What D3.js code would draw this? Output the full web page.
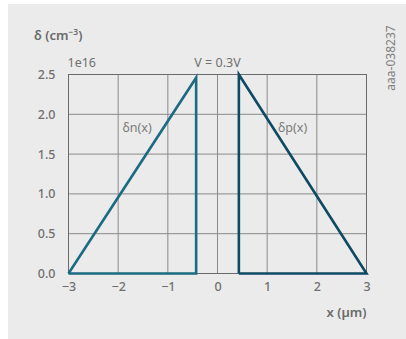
<!DOCTYPE html>
<html>
<head>
<meta charset="utf-8">
<script src="https://cdn.jsdelivr.net/npm/d3@7"></script>
<style>
  html, body { margin: 0; padding: 0; background: #ffffff; }
  svg { display: block; font-family: "Noto Sans", "Open Sans", sans-serif; }
</style>
</head>
<body>
<svg id="chart" width="406" height="339"></svg>
<script>
// Excess carrier profiles on each side of the depletion region
const xTicks = [-3, -2, -1, 0, 1, 2, 3];
const yTicks = [0, 0.5, 1.0, 1.5, 2.0, 2.5];
const deltaN = [[-3, 0], [-0.43, 2.46], [-0.43, 0], [-3, 0]];
const deltaP = [[0.43, 0], [0.43, 2.5], [3, 0], [0.43, 0]];
const seriesColors = ["#1b6b82", "#0e4a64"];
const seriesLabels = ["δn(x)", "δp(x)"];

const svg = d3.select("#chart");

// light grey panel
svg.append("rect").attr("x", 8).attr("y", 4).attr("width", 398).attr("height", 335)
  .attr("fill", "#ebebeb");

const x = d3.scaleLinear().domain([-3, 3]).range([68.5, 366.5]);
const y = d3.scaleLinear().domain([0, 2.5]).range([273.5, 74.5]);

// grid
const grid = svg.append("g").attr("stroke", "#8a8a8a").attr("stroke-width", 1);
grid.selectAll("line.v").data(xTicks).join("line")
  .attr("x1", d => x(d)).attr("x2", d => x(d))
  .attr("y1", y(0)).attr("y2", y(2.5));
grid.selectAll("line.h").data(yTicks).join("line")
  .attr("x1", x(-3)).attr("x2", x(3))
  .attr("y1", d => y(d)).attr("y2", d => y(d));

// axes
const xAxis = d3.axisBottom(x).tickValues(xTicks).tickSize(0).tickPadding(9)
  .tickFormat(d => d < 0 ? "\u2212" + Math.abs(d) : d);
const yAxis = d3.axisLeft(y).tickValues(yTicks).tickSize(0).tickPadding(13)
  .tickFormat(d3.format(".1f"));
const gx = svg.append("g").attr("transform", `translate(0,${y(0)})`).call(xAxis);
const gy = svg.append("g").attr("transform", `translate(${x(-3)},0)`).call(yAxis);
[gx, gy].forEach(g => {
  g.select(".domain").remove();
  g.selectAll("text").attr("fill", "#707070").attr("font-size", 12.5)
    .attr("font-family", "'Noto Sans', 'Open Sans', sans-serif").attr("font-weight", 500);
});

// plot frame
svg.append("rect").attr("x", x(-3)).attr("y", y(2.5))
  .attr("width", x(3) - x(-3)).attr("height", y(0) - y(2.5))
  .attr("fill", "none").attr("stroke", "#6a6a6a").attr("stroke-width", 1);

// profiles
const line = d3.line().x(d => x(d[0])).y(d => y(d[1]));
[deltaN, deltaP].forEach((pts, i) => {
  svg.append("path").attr("d", line(pts)).attr("fill", "none")
    .attr("stroke", seriesColors[i]).attr("stroke-width", 2.6)
    .attr("stroke-linejoin", "miter");
});

const txt = (tx, ty, s, opts = {}) => svg.append("text").attr("x", tx).attr("y", ty)
  .attr("font-size", opts.size || 12.5).attr("fill", opts.fill || "#707070")
  .attr("font-weight", opts.weight || 400)
  .attr("text-anchor", opts.anchor || "start").text(s);

// series labels
txt(122.5, 131.5, seriesLabels[0], { fill: "#7a7a7a" });
txt(278, 131.5, seriesLabels[1], { fill: "#7a7a7a" });

// titles and annotations
const yt = txt(34, 40, "", { weight: 600, fill: "#6a6a6a", size: 13 });
yt.append("tspan").text("δ (cm");
yt.append("tspan").attr("dy", -5).attr("font-size", 8.5).text("\u22123");
yt.append("tspan").attr("dy", 5).text(")");
txt(67.5, 66.5, "1e16", { fill: "#707070" });
txt(x(0), 66.5, "V = 0.3V", { anchor: "middle", fill: "#707070" });
txt(x(3), 316.5, "x (µm)", { anchor: "end", weight: 600, fill: "#6a6a6a", size: 13 });

svg.append("text").attr("transform", "translate(395,58) rotate(-90)")
  .attr("text-anchor", "middle").attr("font-size", 12).attr("fill", "#808080")
  .text("aaa-038237");
</script>
</body>
</html>
